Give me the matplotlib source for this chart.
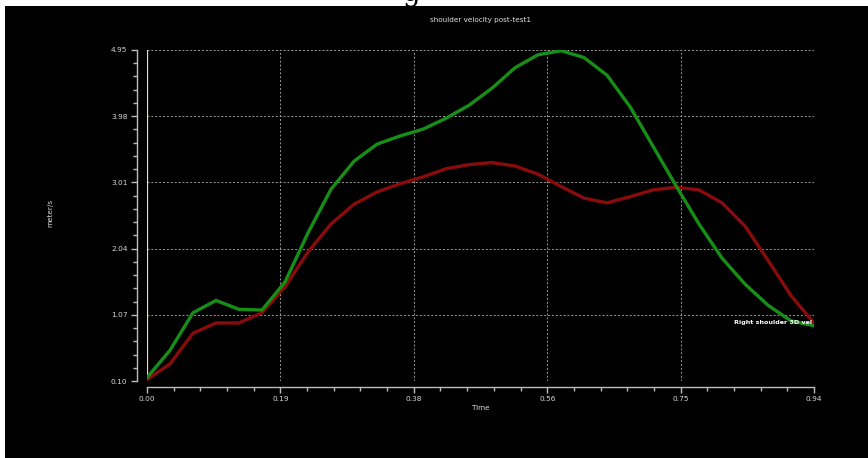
import numpy as np
import matplotlib
matplotlib.use("Agg")
import matplotlib.pyplot as plt
from matplotlib.ticker import FixedLocator, AutoMinorLocator, FixedFormatter
from matplotlib.patches import Rectangle

plt.rcParams['font.family'] = ['Liberation Sans Narrow', 'DejaVu Sans']

# data (30 samples from 0 to 0.94 s)
time = np.linspace(0, 0.94, 30)
green_vel = [0.15, 0.55, 1.10, 1.28, 1.15, 1.14, 1.55, 2.27, 2.91, 3.32,
             3.57, 3.69, 3.79, 3.95, 4.14, 4.39, 4.69, 4.88, 4.94, 4.84,
             4.58, 4.12, 3.54, 2.96, 2.40, 1.90, 1.52, 1.21, 0.98, 0.91]
red_vel = [0.12, 0.35, 0.80, 0.95, 0.95, 1.10, 1.48, 1.99, 2.40, 2.69,
           2.87, 2.99, 3.09, 3.21, 3.27, 3.30, 3.25, 3.13, 2.95, 2.78,
           2.71, 2.80, 2.90, 2.94, 2.90, 2.71, 2.37, 1.87, 1.35, 0.95]
x_ticks = np.linspace(0, 0.94, 6)
y_ticks = np.linspace(0.10, 4.95, 6)
x_labels = ['0.00', '0.19', '0.38', '0.56', '0.75', '0.94']
y_labels = ['0.10', '1.07', '2.04', '3.01', '3.98', '4.95']
series_label = 'Right shoulder 3D vel'

fig = plt.figure(figsize=(8.68, 4.58), dpi=100, facecolor='white')
# black panel, leaving a thin white strip top and left
fig.patches.append(Rectangle((5 / 868, 0), 1, 1 - 6 / 458, transform=fig.transFigure,
                             facecolor='black', edgecolor='none', zorder=-5))
# bottom of a heading cut off above the screenshot
fig.text(0.474, 1 - 1 / 458, 'g', fontsize=20, color='black', ha='center',
         va='baseline', family=['DejaVu Serif'], zorder=-6)

ax = fig.add_axes([147 / 868, 1 - 381 / 458, 667 / 868, 331 / 458])
ax.set_facecolor('black')

ax.plot(time, red_vel, color='#8a0b0b', lw=2.4, zorder=3, solid_joinstyle='miter')
ax.plot(time, green_vel, color='#178f17', lw=2.4, zorder=4, solid_joinstyle='miter')
ax.axvline(0, color='#e6e6a8', lw=0.9, zorder=2)

ax.set_xlim(0, 0.94)
ax.set_ylim(0.10, 4.95)
ax.xaxis.set_major_locator(FixedLocator(x_ticks))
ax.xaxis.set_major_formatter(FixedFormatter(x_labels))
ax.yaxis.set_major_locator(FixedLocator(y_ticks))
ax.yaxis.set_major_formatter(FixedFormatter(y_labels))
ax.xaxis.set_minor_locator(AutoMinorLocator(5))
ax.yaxis.set_minor_locator(AutoMinorLocator(5))

ax.grid(True, which='major', color='#9a9a9a', linestyle=(0, (2, 2)), lw=0.7)
ax.set_axisbelow(True)

for s in ['top', 'right']:
    ax.spines[s].set_visible(False)
ax.spines['left'].set_position(('outward', 7))
ax.spines['bottom'].set_position(('outward', 4))
for s in ['left', 'bottom']:
    ax.spines[s].set_color('#bdbdbd')
    ax.spines[s].set_linewidth(1.0)

ax.tick_params(which='major', colors='#bdbdbd', length=4, width=1.0, labelsize=5.3,
               labelcolor='#d8d8d8', pad=3)
ax.tick_params(which='minor', colors='#bdbdbd', length=3, width=1.0)

ax.annotate(series_label, xy=(time[-1], green_vel[-1]), xytext=(-1, 2),
            textcoords='offset points', ha='right', va='center',
            fontsize=4.6, color='white', fontweight='bold', zorder=6)

fig.text(481 / 868, 1 - 20 / 458, 'shoulder velocity post-test1', color='#e0e0e0',
         fontsize=5.2, ha='center', va='center')
fig.text(50 / 868, 1 - 213 / 458, 'meter/s', color='#e0e0e0', fontsize=5.2,
         rotation=90, ha='center', va='center')
fig.text(481 / 868, 1 - 408 / 458, 'Time', color='#e0e0e0', fontsize=5.2,
         ha='center', va='center')

fig.savefig('out.png', dpi=100, facecolor='white')
